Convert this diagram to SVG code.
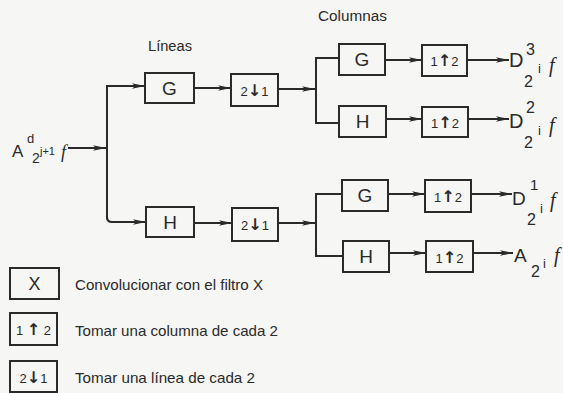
<svg xmlns="http://www.w3.org/2000/svg" width="563" height="393" viewBox="0 0 563 393">
<style>
.bg{fill:#f6f6f4}
.box{fill:none;stroke:#2a2a2a;stroke-width:2}
.ln{fill:none;stroke:#2a2a2a;stroke-width:2}
.lbl{font-family:"Liberation Sans",Arial,sans-serif;fill:#2a2a2a;text-anchor:middle}
.big{font-size:19px}
.op{font-size:13px}
.ar{font-family:"DejaVu Sans",sans-serif;font-size:16px;font-weight:bold}
.t{font-family:"Liberation Sans",Arial,sans-serif;fill:#2a2a2a}
.math{font-family:"Liberation Sans",Arial,sans-serif;fill:#2a2a2a}
.f{font-family:"Liberation Serif",serif;font-style:italic;fill:#2a2a2a}
</style>
<defs>
<marker id="ah" markerUnits="userSpaceOnUse" markerWidth="14" markerHeight="8" refX="13" refY="4" orient="auto">
<path d="M0,1.2 L13,4 L0,6.8 L3,4 z" fill="#2a2a2a"/>
</marker>
</defs>
<rect class="bg" x="0" y="0" width="563" height="393"/>

<g id="connectors">
<path class="ln" d="M68,148 H106" marker-end="url(#ah)"/>
<path class="ln" d="M107,219 V86 H145" marker-end="url(#ah)"/>
<path class="ln" d="M107,217 Q107,222 112,222 H146" marker-end="url(#ah)"/>
<path class="ln" d="M194,88 H231" marker-end="url(#ah)"/>
<path class="ln" d="M194,223 H232" marker-end="url(#ah)"/>
<path class="ln" d="M278,89 H315" marker-end="url(#ah)"/>
<path class="ln" d="M339,58 H316 V123 H339"/>
<path class="ln" d="M278,223 H315" marker-end="url(#ah)"/>
<path class="ln" d="M342,194 H316 V256 H343"/>
<path class="ln" d="M385,60 H422" marker-end="url(#ah)"/>
<path class="ln" d="M467,60 H509" marker-end="url(#ah)"/>
<path class="ln" d="M386,119 H422" marker-end="url(#ah)"/>
<path class="ln" d="M468,119 H509" marker-end="url(#ah)"/>
<path class="ln" d="M388,194 H425" marker-end="url(#ah)"/>
<path class="ln" d="M471,194 H512" marker-end="url(#ah)"/>
<path class="ln" d="M389,253 H426" marker-end="url(#ah)"/>
<path class="ln" d="M473,253 H513" marker-end="url(#ah)"/>
</g>

<g id="titles">
<text class="t" x="148" y="51" font-size="14" textLength="44" lengthAdjust="spacingAndGlyphs">Líneas</text>
<text class="t" x="318" y="21" font-size="14" textLength="69" lengthAdjust="spacingAndGlyphs">Columnas</text>
</g>

<g id="input">
<text class="math" x="12" y="157" font-size="17">A</text>
<text class="math" x="27" y="143" font-size="13">d</text>
<text class="math" x="32" y="163" font-size="14">2</text>
<text class="math" x="40" y="155" font-size="11">j+1</text>
<text class="f" x="61" y="158" font-size="18">f</text>
</g>

<g id="G-lineas"><rect class="box" x="145" y="73" width="49" height="30"/><text class="lbl big" x="169.5" y="95">G</text></g>
<g id="down-1"><rect class="box" x="231" y="74" width="47" height="32"/><text class="lbl op" x="254.5" y="96">2<tspan class="ar">↓</tspan>1</text></g>
<g id="H-lineas"><rect class="box" x="146" y="207" width="48" height="30"/><text class="lbl big" x="170" y="229">H</text></g>
<g id="down-2"><rect class="box" x="232" y="208" width="46" height="33"/><text class="lbl op" x="255" y="230">2<tspan class="ar">↓</tspan>1</text></g>

<g id="G-col-1"><rect class="box" x="339" y="44" width="46" height="31"/><text class="lbl big" x="362" y="66">G</text></g>
<g id="up-1"><rect class="box" x="422" y="45" width="45" height="31"/><text class="lbl op" x="444.5" y="66">1<tspan class="ar">↑</tspan>2</text></g>
<g id="H-col-1"><rect class="box" x="339" y="106" width="47" height="31"/><text class="lbl big" x="362.5" y="128">H</text></g>
<g id="up-2"><rect class="box" x="422" y="107" width="46" height="30"/><text class="lbl op" x="445" y="128">1<tspan class="ar">↑</tspan>2</text></g>
<g id="G-col-2"><rect class="box" x="342" y="180" width="46" height="31"/><text class="lbl big" x="365" y="202">G</text></g>
<g id="up-3"><rect class="box" x="425" y="180" width="46" height="32"/><text class="lbl op" x="448" y="202">1<tspan class="ar">↑</tspan>2</text></g>
<g id="H-col-2"><rect class="box" x="343" y="241" width="46" height="31"/><text class="lbl big" x="366" y="263">H</text></g>
<g id="up-4"><rect class="box" x="426" y="241" width="47" height="31"/><text class="lbl op" x="449.5" y="263">1<tspan class="ar">↑</tspan>2</text></g>

<g id="out-D3">
<text class="math" x="509" y="67" font-size="20">D</text>
<text class="math" x="526" y="55" font-size="16">3</text>
<text class="math" x="524" y="87" font-size="16">2</text>
<text class="math" x="538" y="73" font-size="13">i</text>
<text class="f" x="549" y="72" font-size="20">f</text>
</g>
<g id="out-D2">
<text class="math" x="509" y="128" font-size="20">D</text>
<text class="math" x="526" y="113" font-size="16">2</text>
<text class="math" x="524" y="148" font-size="16">2</text>
<text class="math" x="538" y="135" font-size="13">i</text>
<text class="f" x="549" y="132" font-size="20">f</text>
</g>
<g id="out-D1">
<text class="math" x="512" y="205" font-size="19">D</text>
<text class="math" x="530" y="190" font-size="15">1</text>
<text class="math" x="527" y="225" font-size="16">2</text>
<text class="math" x="540" y="213" font-size="13">i</text>
<text class="f" x="550" y="207" font-size="20">f</text>
</g>
<g id="out-A">
<text class="math" x="514" y="262" font-size="19">A</text>
<text class="math" x="531" y="277" font-size="16">2</text>
<text class="math" x="543" y="268" font-size="13">i</text>
<text class="f" x="554" y="262" font-size="20">f</text>
</g>

<g id="legend-X"><rect class="box" x="10" y="268" width="49" height="31"/><text class="lbl" x="34.5" y="290" font-size="18">X</text>
<text class="t" x="75" y="290" font-size="15" textLength="188" lengthAdjust="spacingAndGlyphs">Convolucionar con el filtro X</text></g>
<g id="legend-up"><rect class="box" x="10" y="313" width="47" height="32"/><text class="lbl op" x="33.5" y="335">1 <tspan class="ar">↑</tspan> 2</text>
<text class="t" x="75" y="336" font-size="15" textLength="203" lengthAdjust="spacingAndGlyphs">Tomar una columna de cada 2</text></g>
<g id="legend-down"><rect class="box" x="10" y="361" width="47" height="31"/><text class="lbl op" x="33.5" y="383">2<tspan class="ar">↓</tspan>1</text>
<text class="t" x="75" y="383" font-size="15" textLength="180" lengthAdjust="spacingAndGlyphs">Tomar una línea de cada 2</text></g>
</svg>
